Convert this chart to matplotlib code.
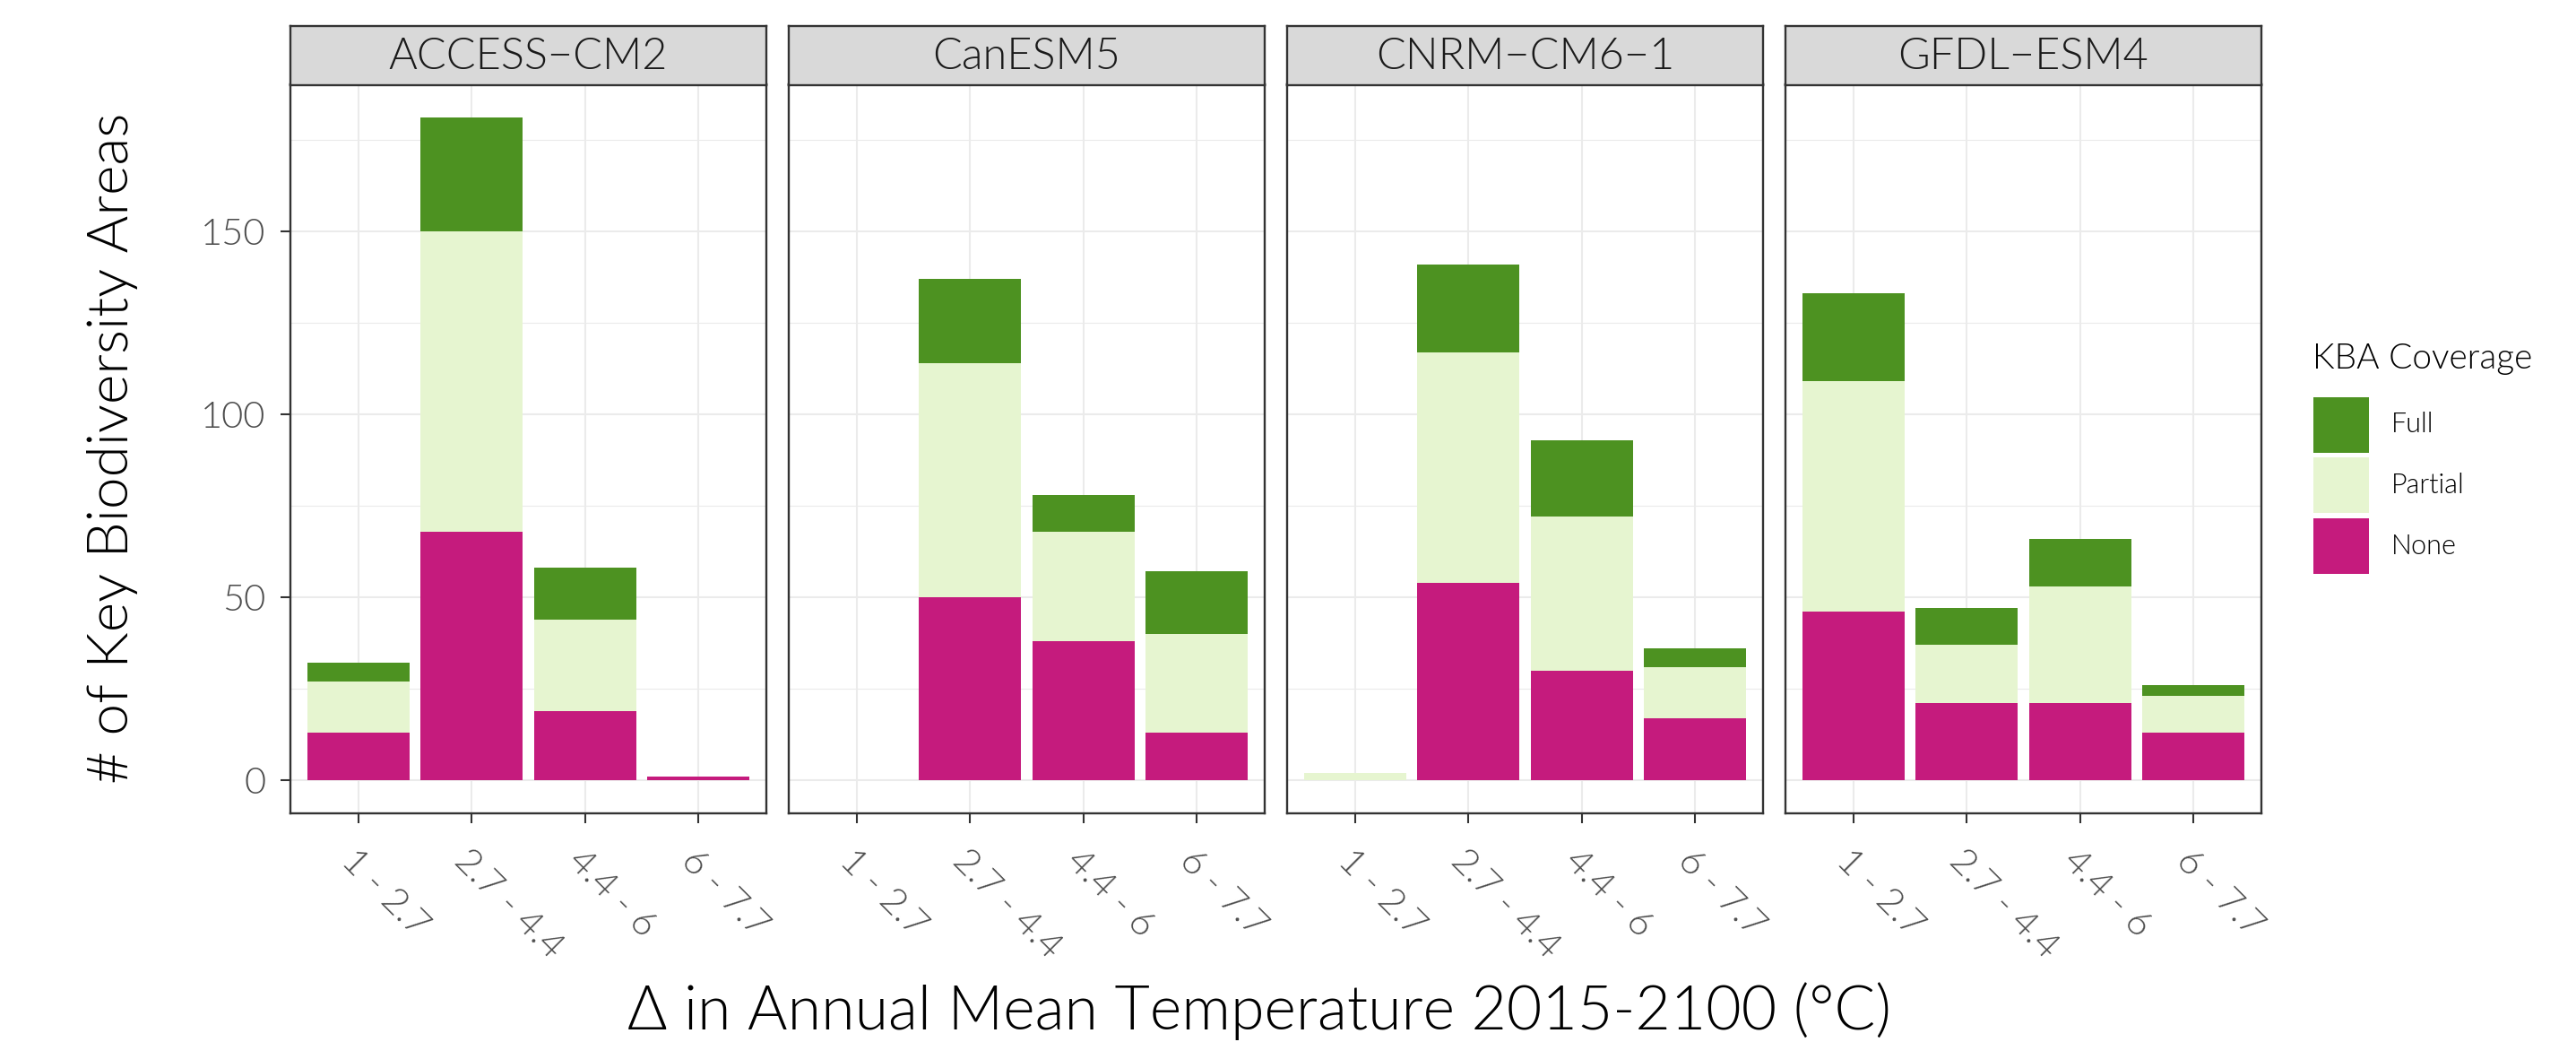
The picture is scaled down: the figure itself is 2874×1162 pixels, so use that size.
import matplotlib
matplotlib.use("Agg")
import matplotlib.pyplot as plt
from matplotlib.patches import Rectangle
import numpy as np

# ---------------- data ----------------
models = ["ACCESS\u2212CM2", "CanESM5", "CNRM\u2212CM6\u22121", "GFDL\u2212ESM4"]
bins = ["1 - 2.7", "2.7 - 4.4", "4.4 - 6", "6 - 7.7"]
coverage = ["Full", "Partial", "None"]

none_vals = [
    [13, 68, 19, 1],
    [0, 50, 38, 13],
    [0, 54, 30, 17],
    [46, 21, 21, 13],
]
partial_vals = [
    [14, 82, 25, 0],
    [0, 64, 30, 27],
    [2, 63, 42, 14],
    [63, 16, 32, 10],
]
full_vals = [
    [5, 31, 14, 0],
    [0, 23, 10, 17],
    [0, 24, 21, 5],
    [24, 10, 13, 3],
]
y_ticks = [0, 50, 100, 150]
y_minor = [25, 75, 125, 175]

colors = {"Full": "#4D9221", "Partial": "#E6F5D0", "None": "#C51B7D"}

# ---------------- layout ----------------
W, H = 2874, 1162
DPI = 100
fig = plt.figure(figsize=(W / DPI, H / DPI), dpi=DPI)
FONT = ["Lato", "DejaVu Sans"]
WEIGHT = 300
plt.rcParams["font.family"] = FONT
plt.rcParams["font.weight"] = WEIGHT

def fx(px):
    return px / W

def fy(py_top):
    return (H - py_top) / H

panel_left0 = 324
panel_step = 556
panel_w = 531
panel_top = 94.5
panel_bot = 907
strip_top = 29

ymax_data = max(n + p + f for i in range(4)
                for n, p, f in zip(none_vals[i], partial_vals[i], full_vals[i]))
exp = 0.05 * ymax_data

border_col = "#333333"
grid_col = "#EBEBEB"
tick_lab_col = "#4D4D4D"

for i, model in enumerate(models):
    left = panel_left0 + i * panel_step
    ax = fig.add_axes([fx(left), fy(panel_bot), fx(panel_w), (panel_bot - panel_top) / H])
    x = np.arange(1, len(bins) + 1)
    nv = np.array(none_vals[i])
    pv = np.array(partial_vals[i])
    fv = np.array(full_vals[i])
    ax.bar(x, nv, width=0.9, color=colors["None"], zorder=3, linewidth=0)
    ax.bar(x, pv, width=0.9, bottom=nv, color=colors["Partial"], zorder=3, linewidth=0)
    ax.bar(x, fv, width=0.9, bottom=nv + pv, color=colors["Full"], zorder=3, linewidth=0)
    ax.set_xlim(0.4, 4.6)
    ax.set_ylim(-exp, ymax_data + exp)
    ax.set_yticks(y_ticks)
    ax.set_yticks(y_minor, minor=True)
    ax.set_xticks(x)
    ax.grid(True, which="major", color=grid_col, linewidth=1.5, zorder=0)
    ax.grid(True, which="minor", axis="y", color=grid_col, linewidth=0.8, zorder=0)
    ax.set_axisbelow(True)
    for s in ax.spines.values():
        s.set_color(border_col)
        s.set_linewidth(1.7)
        s.set_zorder(5)
    ax.tick_params(axis="both", which="major", length=8, width=1.5, color=border_col,
                   labelcolor=tick_lab_col, labelsize=30)
    ax.tick_params(axis="y", which="minor", length=0)
    ax.set_xticklabels(bins, rotation=-45, ha="left", va="top", rotation_mode="anchor",
                       fontsize=30, color=tick_lab_col, fontweight=WEIGHT)
    ax.tick_params(axis="x", pad=16)
    if i == 0:
        ax.set_yticklabels([str(v) for v in y_ticks], fontweight=WEIGHT)
        ax.tick_params(axis="y", pad=12)
    else:
        ax.tick_params(axis="y", which="both", left=False, labelleft=False)

    # strip
    sax = fig.add_axes([fx(left), fy(panel_top), fx(panel_w), (panel_top - strip_top) / H])
    sax.set_facecolor("#D9D9D9")
    sax.set_xticks([])
    sax.set_yticks([])
    for s in sax.spines.values():
        s.set_color(border_col)
        s.set_linewidth(1.7)
    sax.text(0.5, 0.47, model, ha="center", va="center", fontsize=35, color="#1A1A1A",
             family=FONT, fontweight=WEIGHT, transform=sax.transAxes)

# axis titles
fig.text(fx(126), fy(500), "# of Key Biodiversity Areas", rotation=90, ha="center",
         va="center", fontsize=46, color="black", family=FONT, fontweight=WEIGHT)
fig.text(fx(1405), fy(1148), "\u0394 in Annual Mean Temperature 2015-2100 (\u00b0C)",
         ha="center", va="baseline", fontsize=49, color="black", family=FONT,
         fontweight=WEIGHT)

# legend (drawn in figure space)
fig.text(fx(2580), fy(400), "KBA Coverage", ha="left", va="center", fontsize=28,
         color="black", family=FONT, fontweight=WEIGHT)
key_tops = [443, 510, 578]
for lab, top in zip(coverage, key_tops):
    fig.add_artist(Rectangle((fx(2581), fy(top + 62)), fx(62), 62 / H,
                             transform=fig.transFigure, facecolor=colors[lab],
                             edgecolor="none"))
    fig.text(fx(2668), fy(top + 31), lab, ha="left", va="center", fontsize=22,
             color="black", family=FONT, fontweight=WEIGHT)

fig.savefig("out.png", dpi=DPI, facecolor="white")
